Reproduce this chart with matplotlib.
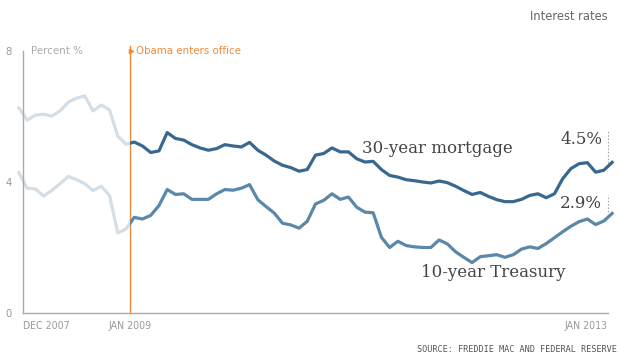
import matplotlib
matplotlib.use('Agg')
import matplotlib.pyplot as plt
from matplotlib import font_manager as fm
from matplotlib.patches import Rectangle
import numpy as np

# monthly readings (percent), first one half a month before Dec 2007,
# last one just past the right edge (Jan 2013)
mortgage = [6.26,
            5.89, 6.04, 6.07, 6.01, 6.17, 6.44, 6.56, 6.63, 6.17, 6.35, 6.20, 5.40, 5.15,
            5.22, 5.10, 4.90, 4.95, 5.51, 5.33, 5.28, 5.14, 5.04, 4.97, 5.02, 5.14, 5.10, 5.07, 5.21,
            4.97, 4.82, 4.64, 4.51, 4.44, 4.33, 4.38, 4.82, 4.87, 5.04, 4.92, 4.92, 4.71, 4.61,
            4.63, 4.38, 4.20, 4.15, 4.07, 4.04, 4.00, 3.97, 4.03, 3.98, 3.87, 3.74, 3.62, 3.68,
            3.56, 3.46, 3.40, 3.40, 3.47, 3.59, 3.64,
            3.52, 3.64, 4.10, 4.41, 4.56, 4.59, 4.30, 4.36, 4.60]
treasury = [4.29,
            3.81, 3.79, 3.57, 3.74, 3.95, 4.17, 4.07, 3.95, 3.74, 3.87, 3.59, 2.44, 2.57,
            2.92, 2.87, 2.98, 3.28, 3.77, 3.62, 3.64, 3.47, 3.47, 3.47, 3.64, 3.77, 3.75, 3.81, 3.92,
            3.46, 3.25, 3.05, 2.74, 2.69, 2.59, 2.80, 3.33, 3.44, 3.64, 3.47, 3.54, 3.23, 3.08,
            3.06, 2.31, 2.00, 2.19, 2.06, 2.02, 2.00, 2.00, 2.23, 2.11, 1.87, 1.70, 1.54, 1.72,
            1.75, 1.78, 1.70, 1.78, 1.95, 2.02, 1.97,
            2.12, 2.30, 2.48, 2.65, 2.79, 2.87, 2.70, 2.81, 3.04]
months = np.arange(len(mortgage)) - 0.5

tick_pos = [0, 13, 71]
tick_labels = ['DEC 2007', 'JAN 2009', 'JAN 2013']
obama_month = 13
end_labels = ['4.5%', '2.9%']

# condensed sans if the system has one, otherwise plain DejaVu a bit smaller
cond_file = fm.findfont(fm.FontProperties(family='DejaVu Sans', stretch='condensed'))
if 'Condensed' in cond_file:
    nar = dict(family='DejaVu Sans', stretch='condensed')
    k = 1.0
else:
    nar = dict(family='DejaVu Sans')
    k = 0.78
grey = '#aaaaaa'
orange = '#ef8a3a'

fig = plt.figure(figsize=(6.2, 3.56), dpi=100)
ax = fig.add_axes([23 / 620, 43 / 356, 585 / 620, 262 / 356])
ax.set_xlim(0, 71)
ax.set_ylim(0, 8)

for s in ['top', 'right']:
    ax.spines[s].set_visible(False)
for s in ['left', 'bottom']:
    ax.spines[s].set_color(grey)
    ax.spines[s].set_linewidth(1)

# light lines before Obama, dark after
for vals, col in [(mortgage, '#386890'), (treasury, '#5b87a8')]:
    light, = ax.plot(months, vals, color='#d3dee6', lw=2.3, solid_joinstyle='round')
    light.set_clip_path(Rectangle((-5, -1), 5 + obama_month, 12, transform=ax.transData))
    dark, = ax.plot(months, vals, color=col, lw=2.3, solid_joinstyle='round', zorder=3)
    dark.set_clip_path(Rectangle((obama_month, -1), 80, 12, transform=ax.transData))

ax.axvline(obama_month, ymin=0, ymax=8.15 / 8, color=orange, lw=1, clip_on=False, zorder=1)
ax.plot([obama_month + 0.15], [8], marker='>', ms=3, color=orange, clip_on=False)
ax.text(obama_month + 0.7, 8, 'Obama enters office', color=orange, fontsize=8.2 * k,
        va='center', ha='left', **nar)
ax.text(1.0, 8, 'Percent %', color=grey, fontsize=8.2 * k, va='center', ha='left', **nar)

ax.set_yticks([0, 4, 8])
ax.set_yticklabels(['0', '4', '8'], fontsize=8 * k, color='#999999', **nar)
ax.tick_params(axis='y', length=0, pad=8)
ax.set_yticks([8], minor=True)
ax.tick_params(axis='y', which='minor', direction='inout', length=6, color=grey, width=1)

ax.set_xticks(tick_pos)
ax.set_xticklabels(tick_labels, fontsize=7.6 * k, color='#999999', **nar)
ax.tick_params(axis='x', length=0, pad=6)
for lab, ha in zip(ax.get_xticklabels(), ['left', 'center', 'right']):
    lab.set_ha(ha)

serif = dict(family='DejaVu Serif', fontsize=12, color='#444444')
ax.text(41.1, 4.89, '30-year mortgage', va='baseline', ha='left', **serif)
ax.text(48.3, 1.10, '10-year Treasury', va='baseline', ha='left', **serif)
ax.text(70.3, 5.15, end_labels[0], va='baseline', ha='right', **serif)
ax.text(70.3, 3.20, end_labels[1], va='baseline', ha='right', **serif)
ax.vlines([71, 71], [4.58, 3.08], [5.59, 3.60], colors='#aaaaaa', lw=0.8,
          linestyles=(0, (1.5, 1.5)), clip_on=False)

fig.text(608 / 620, 1 - 17 / 356, 'Interest rates', ha='right', va='center',
         fontsize=9.2 * k, color='#666666', **nar)
fig.text(617 / 620, 1 - 350 / 356, 'SOURCE: FREDDIE MAC AND FEDERAL RESERVE', ha='right',
         va='center', family='DejaVu Sans Mono', fontsize=6.1, color='#555555')

fig.savefig('out.png', dpi=100)
